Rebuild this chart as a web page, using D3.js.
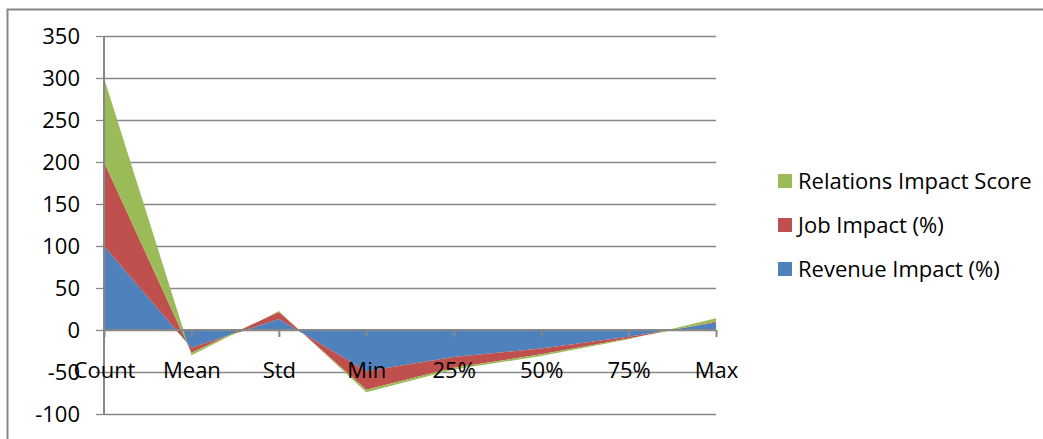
<!DOCTYPE html>
<html>
<head>
<meta charset="utf-8">
<script src="https://cdn.jsdelivr.net/npm/d3@7"></script>
<style>
  html, body { margin: 0; padding: 0; background: #fff; }
  svg { display: block; }
  text { font-family: "Open Sans", "Noto Sans", sans-serif; fill: #000; }
</style>
</head>
<body>
<svg id="chart" width="1043" height="439"></svg>
<script>
// Summary statistics per impact measure
const categories = ["Count", "Mean", "Std", "Min", "25%", "50%", "75%", "Max"];
const revenueImpact   = [100, -21, 13, -49, -32, -22, -8, 9];
const jobImpact       = [100, -6, 8.5, -22, -13, -7, -2, 1];
const relationsImpact = [100, -3, 1, -3, -2, -2, -1, 4];
const seriesNames  = ["Revenue Impact (%)", "Job Impact (%)", "Relations Impact Score"];
const seriesColors = ["#4F81BD", "#C0504D", "#9BBB59"];
const yTicks = [-100, -50, 0, 50, 100, 150, 200, 250, 300, 350];

const svg = d3.select("#chart");
const W = 1043, H = 439;
const plot = { left: 104, right: 716, top: 36, bottom: 414 };
const gridColor = "#878787";
const fontSize = 22;

// Outer chart frame
svg.append("path")
  .attr("d", `M7.5,${H} L7.5,9.5 L${W},9.5`)
  .attr("fill", "none")
  .attr("stroke", gridColor)
  .attr("stroke-width", 2);

const x = d3.scalePoint().domain(categories).range([plot.left, plot.right]);
const y = d3.scaleLinear().domain([-100, 350]).range([plot.bottom, plot.top]);

// Rows for stacking
const table = categories.map((c, i) => ({
  category: c,
  [seriesNames[0]]: revenueImpact[i],
  [seriesNames[1]]: jobImpact[i],
  [seriesNames[2]]: relationsImpact[i]
}));
const stacked = d3.stack().keys(seriesNames).offset(d3.stackOffsetNone)(table);

// Horizontal gridlines (behind the areas); labels use a plain hyphen-minus
const yAxis = d3.axisLeft(y).tickValues(yTicks).tickSize(-(plot.right - plot.left))
  .tickPadding(24).tickFormat(d => String(d));
const gy = svg.append("g").attr("transform", `translate(${plot.left},0)`).call(yAxis);
gy.select(".domain").remove();
gy.selectAll(".tick line").attr("stroke", gridColor).attr("stroke-width", 1.3);
gy.selectAll(".tick").append("line")
  .attr("x1", -8).attr("x2", 0)
  .attr("stroke", gridColor).attr("stroke-width", 1.3);
gy.selectAll(".tick text")
  .attr("font-size", fontSize)
  .attr("fill", "#000")
  .attr("font-family", "'Open Sans', sans-serif");

// Stacked areas
const area = d3.area()
  .x((d, i) => x(categories[i]))
  .y0(d => y(d[0]))
  .y1(d => y(d[1]));

svg.append("g").selectAll("path")
  .data(stacked)
  .join("path")
  .attr("d", area)
  .attr("fill", (d, i) => seriesColors[i]);

// Vertical value axis line
svg.append("line")
  .attr("x1", plot.left).attr("x2", plot.left)
  .attr("y1", plot.top).attr("y2", plot.bottom)
  .attr("stroke", gridColor).attr("stroke-width", 2);

// Category axis along zero
const xAxis = d3.axisBottom(x).tickSize(7).tickSizeOuter(0).tickPadding(25);
const gx = svg.append("g").attr("transform", `translate(0,${y(0)})`).call(xAxis);
gx.select(".domain").attr("stroke", gridColor).attr("stroke-width", 2)
  .attr("d", `M${plot.left},0H${plot.right}`);
gx.selectAll(".tick line").attr("stroke", gridColor).attr("stroke-width", 2);
gx.selectAll(".tick text")
  .attr("font-size", fontSize)
  .attr("fill", "#000")
  .attr("font-family", "'Open Sans', sans-serif");

// Legend (top series first)
const legendItems = [2, 1, 0];
const legend = svg.append("g");
legendItems.forEach((si, row) => {
  const cy = 181 + row * 44;
  legend.append("rect")
    .attr("x", 778).attr("y", cy - 7)
    .attr("width", 14).attr("height", 14)
    .attr("fill", seriesColors[si]);
  legend.append("text")
    .attr("x", 798).attr("y", cy)
    .attr("dy", "0.35em")
    .attr("font-size", fontSize)
    .text(seriesNames[si]);
});
</script>
</body>
</html>
